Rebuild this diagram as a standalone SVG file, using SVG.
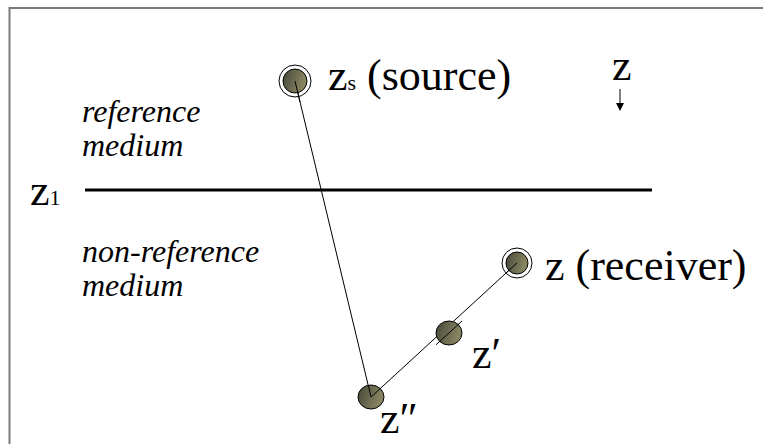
<svg xmlns="http://www.w3.org/2000/svg" width="763" height="444" viewBox="0 0 763 444">
<defs>
<linearGradient id="g" x1="0" y1="0" x2="1" y2="0.3">
<stop offset="0" stop-color="#46463a"/>
<stop offset="1" stop-color="#8a8862"/>
</linearGradient>
<style>
.dot{fill:url(#g);stroke:#000;stroke-width:1}
.ring{fill:none;stroke:#000;stroke-width:1}
.ln{stroke:#000;stroke-width:1;fill:none}
</style>
</defs>
<rect width="763" height="444" fill="#fff"/>
<path d="M9.5,444 V8 H763" fill="none" stroke="#7a7a7a" stroke-width="2"/>

<g font-family="'Liberation Serif', 'Times New Roman', Tinos, 'DejaVu Serif', 'Noto Serif', Times, serif" fill="#000">
<g id="interface">
<line x1="85" y1="190" x2="652" y2="190" stroke="#000" stroke-width="3"/>
<text x="30" y="205" font-size="44">z<tspan font-size="22">1</tspan></text>
</g>

<g id="media" font-style="italic" font-size="32">
<text x="82" y="122">reference</text>
<text x="82" y="156">medium</text>
<text x="82" y="262">non-reference</text>
<text x="82" y="296">medium</text>
</g>

<g id="axis">
<text x="612" y="80" font-size="44">z</text>
<line x1="620" y1="89" x2="620" y2="104" stroke="#000" stroke-width="1"/>
<polygon points="616,103 624,103 620,111" fill="#000"/>
</g>

<g id="connectors">
<line class="ln" x1="295" y1="81" x2="371" y2="397"/>
<line class="ln" x1="371" y1="397" x2="517" y2="263"/>
</g>

<g id="source">
<circle class="ring" cx="295" cy="81" r="16"/>
<circle class="dot" cx="295" cy="81" r="12"/>
<line class="ln" x1="295" y1="81" x2="300" y2="102"/>
<text x="328" y="90" font-size="44">z<tspan font-size="22">s</tspan> (source)</text>
</g>

<g id="receiver">
<circle class="ring" cx="517" cy="263" r="15"/>
<circle class="dot" cx="517" cy="263" r="11"/>
<line class="ln" x1="517" y1="263" x2="505" y2="274"/>
<text x="545" y="280" font-size="44">z (receiver)</text>
</g>

<g id="zprime">
<ellipse class="dot" cx="449" cy="333" rx="13" ry="12"/>
<line class="ln" x1="436" y1="344.8" x2="462" y2="321"/>
<text x="472" y="368" font-size="44">z′</text>
</g>

<g id="zdprime">
<ellipse class="dot" cx="371" cy="397" rx="13" ry="12"/>
<line class="ln" x1="368.5" y1="386" x2="371" y2="397"/>
<line class="ln" x1="371" y1="397" x2="381" y2="388"/>
<text x="380" y="433" font-size="44">z″</text>
</g>
</g>
</svg>
